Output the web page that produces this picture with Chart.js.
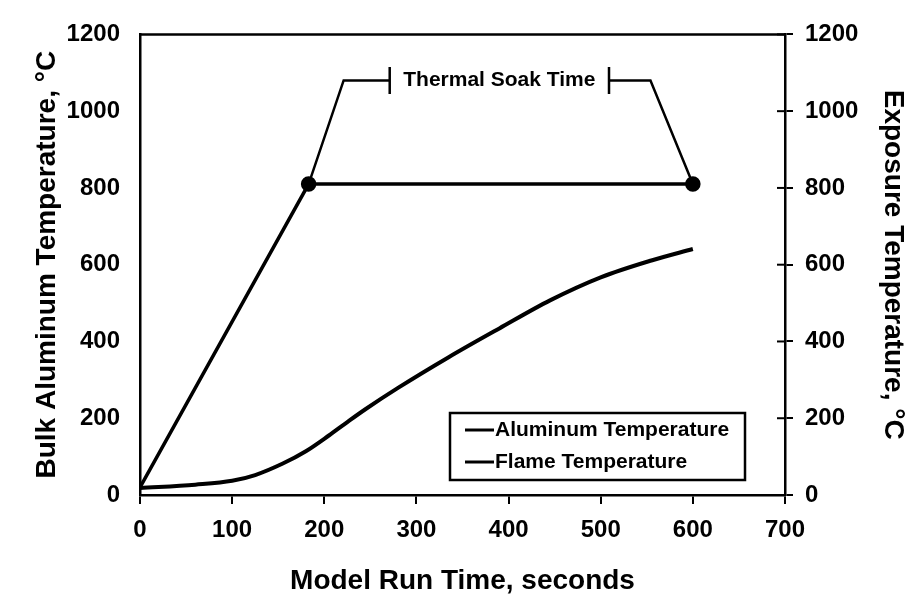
<!DOCTYPE html>
<html><head><meta charset="utf-8">
<script src="https://cdn.jsdelivr.net/npm/chart.js@4/dist/chart.umd.min.js"></script>
<style>html,body{margin:0;padding:0;background:#fff}#wrap{width:910px;height:596px}</style>
</head><body><div id="wrap"><canvas id="c" width="910" height="596"></canvas></div>
<script>
// ---- data ----
const timeAl = [0, 60, 100, 125, 155, 180, 205, 225, 245, 280, 335, 390, 445, 500, 555, 600];
const tempAl = [18, 27, 37, 52, 82, 114, 155, 190, 224, 279, 359, 434, 507, 567, 611, 641];
const timeFlame = [0, 183, 600];
const tempFlame = [20, 810, 810];
const bracketLeftT = [183, 221, 271];
const bracketLeftV = [810, 1080, 1080];
const bracketRightT = [509, 554, 600];
const bracketRightV = [1080, 1080, 810];
const barT = [271, 509];
const barV = [1045, 1115];
const soakMidT = 390, soakMidV = 1080;
const seriesLabels = ['Aluminum Temperature', 'Flame Temperature'];
const soakLabel = 'Thermal Soak Time';
const xTitle = 'Model Run Time, seconds';
const yTitle = 'Bulk Aluminum Temperature, °C';
const y2Title = 'Exposure Temperature, °C';
const xMin = 0, xMax = 700, xStep = 100;
const yMin = 0, yMax = 1200, yStep = 200;

const FONT = '"Liberation Sans", Arial, Helvetica, sans-serif';
const pts = (xs, ys) => xs.map((x, i) => ({x, y: ys[i]}));
const plain = v => String(v);

const annoStyle = {borderColor: '#000', borderWidth: 2.5, pointRadius: 0, fill: false, tension: 0, showLine: true};

const datasets = [
  {label: seriesLabels[0], data: pts(timeAl, tempAl), borderColor: '#000', borderWidth: 4,
   pointRadius: 0, cubicInterpolationMode: 'monotone', showLine: true, fill: false},
  {label: seriesLabels[1], data: pts(timeFlame, tempFlame), borderColor: '#000', borderWidth: 3.5,
   pointRadius: [0, 6, 6], pointBackgroundColor: '#000', pointBorderColor: '#000', tension: 0, showLine: true, fill: false},
  Object.assign({label: '_bl', data: pts(bracketLeftT, bracketLeftV)}, annoStyle),
  Object.assign({label: '_br', data: pts(bracketRightT, bracketRightV)}, annoStyle),
  Object.assign({label: '_b1', data: pts([barT[0], barT[0]], barV)}, annoStyle),
  Object.assign({label: '_b2', data: pts([barT[1], barT[1]], barV)}, annoStyle)
];

const extras = {
  id: 'extras',
  afterDraw(chart) {
    const ctx = chart.ctx, a = chart.chartArea;
    const xs = chart.scales.x, ys = chart.scales.y2;
    ctx.save();
    ctx.strokeStyle = '#000';
    ctx.lineWidth = 2.5;
    ctx.beginPath(); ctx.moveTo(a.left - 1, a.top); ctx.lineTo(a.right + 1, a.top); ctx.stroke();
    ctx.lineWidth = 2;
    ys.ticks.forEach(t => {
      const py = ys.getPixelForValue(t.value);
      ctx.beginPath(); ctx.moveTo(a.right - 8, py); ctx.lineTo(a.right, py); ctx.stroke();
    });
    ctx.fillStyle = '#000';
    ctx.font = 'bold 21px ' + FONT;
    ctx.textAlign = 'center'; ctx.textBaseline = 'middle';
    ctx.fillText(soakLabel, xs.getPixelForValue(soakMidT), ys.getPixelForValue(soakMidV));
    const bx = 450, by = 413, bw = 295, bh = 67;
    ctx.lineWidth = 2.5;
    ctx.strokeRect(bx, by, bw, bh);
    ctx.font = 'bold 21px ' + FONT;
    ctx.textAlign = 'left';
    chart.data.datasets.slice(0, 2).forEach((d, i) => {
      const cy = by + 17 + i * 32;
      ctx.lineWidth = 3;
      ctx.beginPath(); ctx.moveTo(bx + 15, cy); ctx.lineTo(bx + 44, cy); ctx.stroke();
      ctx.fillText(d.label, bx + 45, cy);
    });
    ctx.restore();
  }
};

new Chart(document.getElementById('c'), {
  type: 'scatter',
  data: {datasets},
  plugins: [extras],
  options: {
    responsive: false, animation: false, devicePixelRatio: 1,
    layout: {padding: {top: 20, left: 0, right: 0, bottom: 0}},
    plugins: {legend: {display: false}, tooltip: {enabled: false}},
    scales: {
      x: {type: 'linear', min: xMin, max: xMax, position: 'bottom',
        afterFit(s) { s.height = 101; },
        ticks: {stepSize: xStep, callback: plain, color: '#000', padding: 12, font: {family: FONT, size: 24, weight: 'bold'}},
        grid: {drawOnChartArea: false, drawTicks: true, tickLength: 9, color: '#000', lineWidth: 2},
        border: {display: true, color: '#000', width: 2.5},
        title: {display: true, text: xTitle, color: '#000', padding: {top: 0, bottom: -2}, font: {family: FONT, size: 28, weight: 'bold'}}
      },
      y: {type: 'linear', min: yMin, max: yMax, position: 'left',
        afterFit(s) { s.width = 140; },
        ticks: {stepSize: yStep, callback: plain, color: '#000', padding: 20, font: {family: FONT, size: 24, weight: 'bold'}},
        grid: {drawOnChartArea: false, drawTicks: false, color: '#000'},
        border: {display: true, color: '#000', width: 2.5},
        title: {display: true, text: yTitle, color: '#000', padding: {top: 30, bottom: 0}, font: {family: FONT, size: 28, weight: 'bold'}}
      },
      y2: {type: 'linear', min: yMin, max: yMax, position: 'right',
        afterFit(s) { s.width = 125; },
        ticks: {stepSize: yStep, callback: plain, color: '#000', padding: 12, font: {family: FONT, size: 24, weight: 'bold'}},
        grid: {drawOnChartArea: false, drawTicks: true, tickLength: 8, color: '#000', lineWidth: 2},
        border: {display: true, color: '#000', width: 2.5},
        title: {display: true, text: y2Title, color: '#000', padding: {top: 0, bottom: 0}, font: {family: FONT, size: 28, weight: 'bold'}}
      }
    }
  }
});
</script></body></html>
